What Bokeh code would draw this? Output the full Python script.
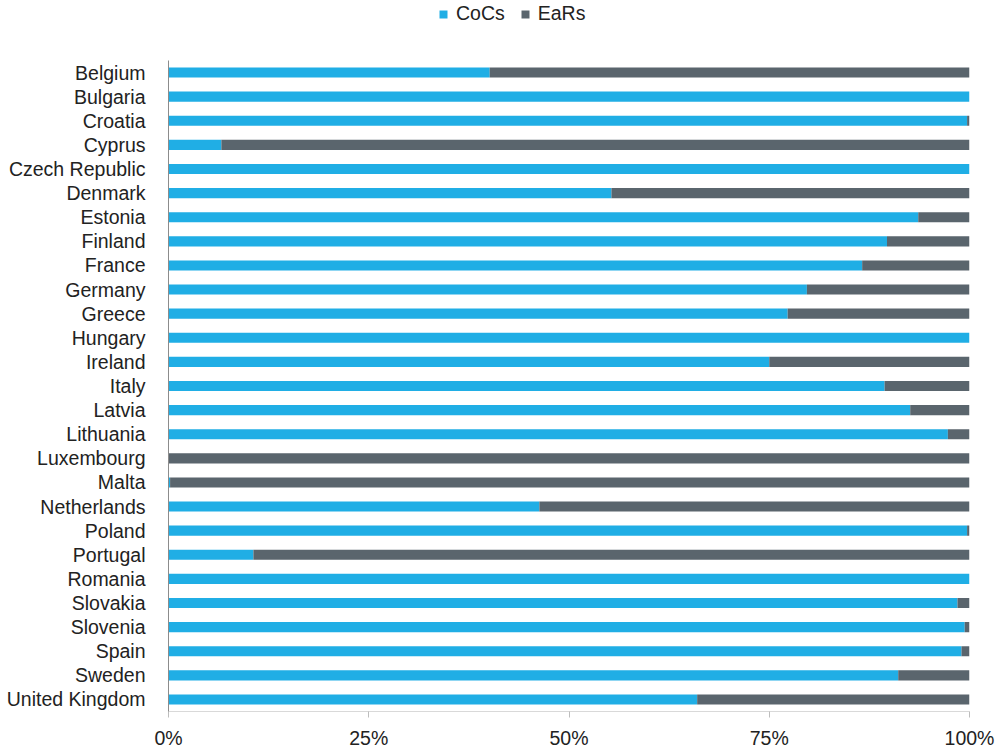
from bokeh.plotting import figure
from bokeh.layouts import column
from bokeh.models import (ColumnDataSource, FactorRange, Range1d, FixedTicker,
                          NumeralTickFormatter, Legend, LegendItem)
from bokeh.embed import file_html
from bokeh.resources import INLINE

countries = ["Belgium", "Bulgaria", "Croatia", "Cyprus", "Czech Republic", "Denmark",
             "Estonia", "Finland", "France", "Germany", "Greece", "Hungary", "Ireland",
             "Italy", "Latvia", "Lithuania", "Luxembourg", "Malta", "Netherlands",
             "Poland", "Portugal", "Romania", "Slovakia", "Slovenia", "Spain", "Sweden",
             "United Kingdom"]
cocs_pct = [40.1, 100.0, 99.7, 6.6, 100.0, 55.3, 93.6, 89.7, 86.6, 79.7, 77.3, 100.0, 75.0,
            89.4, 92.6, 97.3, 0.0, 0.2, 46.3, 99.7, 10.6, 100.0, 98.5, 99.4, 99.0, 91.1,
            66.0]
ears_pct = [round(100.0 - v, 1) for v in cocs_pct]
series = ["CoCs", "EaRs"]
x_ticks = [0, 0.25, 0.5, 0.75, 1.0]

FONT = "Liberation Sans"
FS = "19.5px"
TXT = "#222222"
COLORS = ["#20aee5", "#5a656d"]

src = ColumnDataSource(dict(
    country=countries,
    CoCs=[v / 100 for v in cocs_pct],
    EaRs=[v / 100 for v in ears_pct],
))

# ---- legend strip on top ----
lg = figure(width=997, height=60, output_backend="svg", toolbar_location=None,
            x_axis_type=None, y_axis_type=None, x_range=Range1d(0, 1), y_range=Range1d(0, 1),
            min_border_left=0, min_border_right=0, min_border_top=0, min_border_bottom=0)
lg.outline_line_color = None
lg.xgrid.visible = False
lg.ygrid.visible = False
items = []
for name, col in zip(series, COLORS):
    # off-screen placeholder point, only used to draw the legend swatch
    r = lg.scatter(x=[-10], y=[-10], marker="square", size=8, color=col, line_color=None)
    items.append(LegendItem(label=name, renderers=[r]))
legend = Legend(items=items, location=(265, 35), orientation="horizontal",
                border_line_color=None, background_fill_alpha=0,
                padding=0, margin=0, spacing=10,
                glyph_width=20, glyph_height=20, label_standoff=3,
                label_text_font=FONT, label_text_font_size=FS,
                label_text_color=TXT, label_height=20)
lg.add_layout(legend, "center")

# ---- main chart ----
p = figure(width=997, height=691, output_backend="svg", toolbar_location=None,
           y_range=FactorRange(factors=list(reversed(countries)), range_padding=0),
           x_range=Range1d(0, 1),
           min_border_left=168, min_border_right=28, min_border_top=0,
           min_border_bottom=39)
p.outline_line_color = None
p.xgrid.visible = False
p.ygrid.visible = False

p.hbar_stack(series, y="country", height=0.42, source=src,
             color=COLORS, line_color=None)

p.xaxis.ticker = FixedTicker(ticks=x_ticks)
p.xaxis.formatter = NumeralTickFormatter(format="0%")
p.xaxis.axis_line_color = "#d9d9d9"
p.xaxis.major_tick_line_color = "#bdbdbd"
p.xaxis.major_tick_out = 6
p.xaxis.major_tick_in = 0
p.xaxis.minor_tick_line_color = None
p.xaxis.major_label_text_font = FONT
p.xaxis.major_label_text_font_size = FS
p.xaxis.major_label_text_color = TXT
p.xaxis.major_label_standoff = 9

p.yaxis.axis_line_color = "#8c8c8c"
p.yaxis.major_tick_line_color = None
p.yaxis.minor_tick_line_color = None
p.yaxis.major_label_text_font = FONT
p.yaxis.major_label_text_font_size = FS
p.yaxis.major_label_text_color = TXT
p.yaxis.major_label_standoff = 17

layout = column(lg, p, spacing=0)
open("out.html", "w").write(file_html(layout, INLINE))
